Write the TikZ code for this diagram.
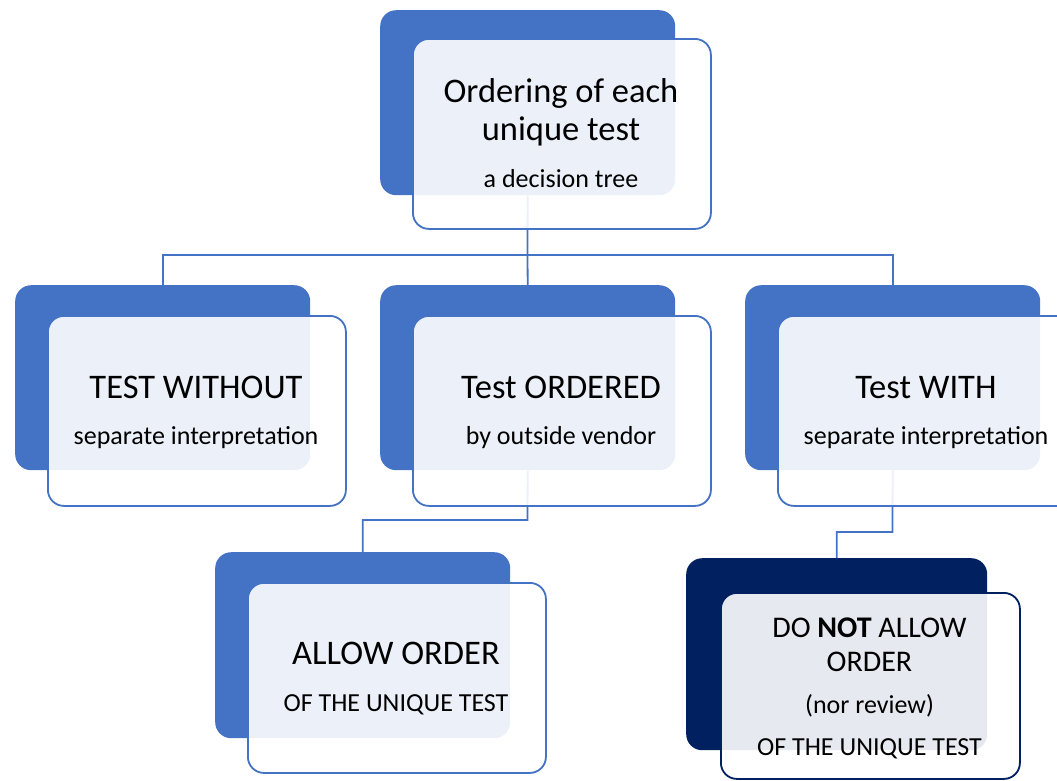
\documentclass[tikz,border=0pt]{standalone}
\usepackage{fontspec}
\setmainfont{Carlito}
\definecolor{accent}{HTML}{4472C4}
\definecolor{navy}{HTML}{002060}
\tikzset{
  backbox/.style={rectangle, rounded corners=16pt, fill=#1, draw=none,
    minimum width=295pt, minimum height=185pt, inner sep=0pt, anchor=north west},
  backbox/.default=accent,
  frontbox/.style={rectangle, rounded corners=16pt, fill=white, fill opacity=0.9,
    draw=#1, draw opacity=1, line width=1.8pt, minimum width=298pt, minimum height=190pt,
    inner sep=0pt, anchor=north west},
  frontbox/.default=accent,
  link/.style={draw=accent, line width=1.8pt},
  maintxt/.style={font=\fontsize{34.5}{40}\selectfont, anchor=base, inner sep=0pt},
  smalltxt/.style={font=\fontsize{26}{31}\selectfont, anchor=base, inner sep=0pt},
  donttxt/.style={font=\fontsize{30}{36}\selectfont, anchor=base, inner sep=0pt},
}
\begin{document}
\begin{tikzpicture}[x=1pt, y=-1pt]
\useasboundingbox (0,0) rectangle (1057,780);
\clip (0,0) rectangle (1057,780);

% back cards
\node[backbox] (b0) at (380,10) {};
\node[backbox] (b1) at (15,285) {};
\node[backbox] (b2) at (380,285) {};
\node[backbox] (b3) at (745,285) {};
\node[backbox, minimum height=186pt] (b4) at (215,552) {};
\node[backbox=navy, minimum width=301pt, minimum height=192pt] (b5) at (686,558) {};

% connectors
\coordinate (j0) at (527.5,255);
\coordinate (j2) at (527.5,520);
\coordinate (j3) at (892.5,532);
\draw[link] (b0.south) -- (j0);
\draw[link] (j0) -| (b1.north);
\draw[link] (j0) -| (b3.north);
\draw[link] (j0) -- (b2.north);
\draw[link] (b2.south) -- (j2) -| (b4.north);
\draw[link] (b3.south) -- (j3) -| (b5.north);

% front cards
\node[frontbox] (f0) at (412,38) {};
\node[frontbox] (f1) at (47,315) {};
\node[frontbox] (f2) at (412,315) {};
\node[frontbox] (f3) at (777,315) {};
\node[frontbox] (f4) at (247,582) {};
\node[frontbox=navy, minimum width=299pt, minimum height=186pt] (f5) at (720,592) {};

% texts
\node[maintxt] (t0a) at (561,102) {Ordering of each};
\node[maintxt] (t0b) at (561,140) {unique test};
\node[smalltxt] (t0c) at (561,187) {a decision tree};

\node[maintxt] (t1a) at (196,398) {TEST WITHOUT};
\node[smalltxt] (t1b) at (196,444) {separate interpretation};

\node[maintxt] (t2a) at (561,398) {Test ORDERED};
\node[smalltxt] (t2b) at (561,444) {by outside vendor};

\node[maintxt] (t3a) at (926,398) {Test WITH};
\node[smalltxt] (t3b) at (926,444) {separate interpretation};

\node[maintxt] (t4a) at (396,664) {ALLOW ORDER};
\node[smalltxt] (t4b) at (396,711) {OF THE UNIQUE TEST};

\node[donttxt] (t5a) at (869.5,637) {DO \textbf{NOT} ALLOW};
\node[donttxt] (t5b) at (869.5,671) {ORDER};
\node[smalltxt] (t5c) at (869.5,713) {(nor review)};
\node[smalltxt] (t5d) at (869.5,755) {OF THE UNIQUE TEST};
\end{tikzpicture}
\end{document}
